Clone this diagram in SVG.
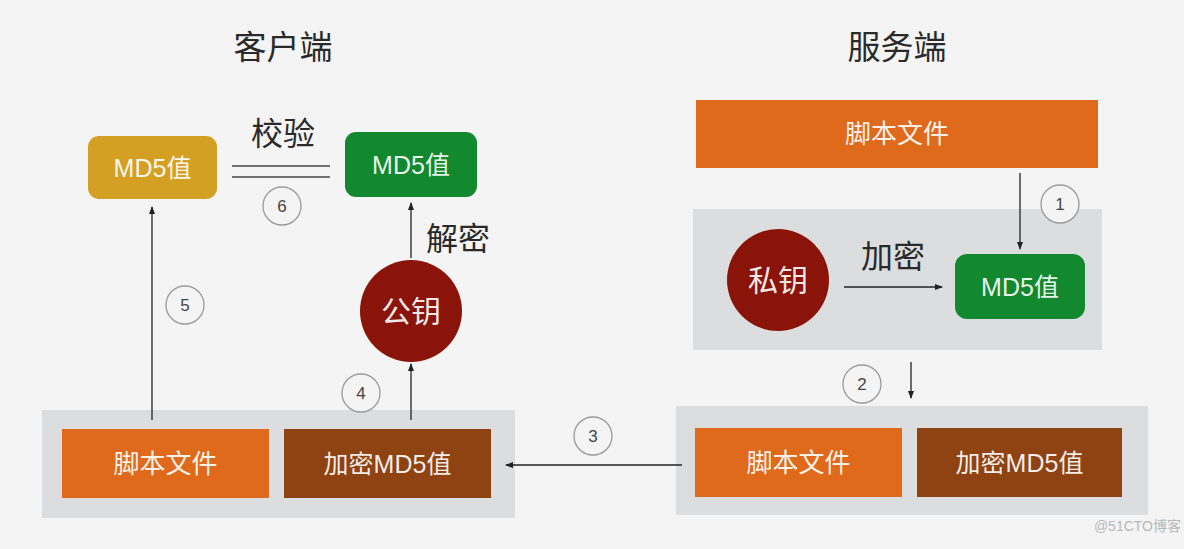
<svg xmlns="http://www.w3.org/2000/svg" width="1184" height="549" viewBox="0 0 1184 549">
<defs>
<marker id="ah" markerWidth="8" markerHeight="8" refX="7" refY="4" orient="auto" markerUnits="userSpaceOnUse">
<path d="M0,1 L8,4 L0,7 Z" fill="#222"/>
</marker>
<style>
.t{font-family:"Liberation Sans","Noto Sans CJK SC",sans-serif;text-anchor:middle;dominant-baseline:central}
.title{font-size:33px;fill:#2a2a2a}
.lbl{font-size:32px;fill:#2a2a2a}
.w{font-size:25px;fill:#fff;fill-opacity:0.92}
.ws{font-size:26px;fill:#fff;fill-opacity:0.92}
.wk{font-size:30px;fill:#fff;fill-opacity:0.92}
.num{font-family:"Liberation Sans",sans-serif;font-size:17px;fill:#444;text-anchor:middle;dominant-baseline:central}
.nc{fill:#f4f4f4;stroke:#9a9a9a;stroke-width:1.3}
.grp{fill:#dcdddf}
.or{fill:#e06a1c}
.br{fill:#8f4313}
.gr{fill:#12892e}
.yl{fill:#d3a024}
.key{fill:#8a1409}
.c{stroke:#222;stroke-width:1.3;fill:none}
</style>
</defs>
<rect width="1184" height="549" fill="#f4f4f4"/>

<g id="titles">
<text class="t title" x="283" y="47">客户端</text>
<text class="t title" x="897" y="47">服务端</text>
</g>

<g id="client-group">
<rect class="grp" x="42" y="410" width="473" height="108"/>
</g>
<g id="client-script">
<rect class="or" x="62" y="429" width="207" height="69"/>
<text class="t ws" x="165.5" y="463.5">脚本文件</text>
</g>
<g id="client-encmd5">
<rect class="br" x="284" y="429" width="207" height="69"/>
<text class="t w" x="387.5" y="463.5">加密MD5值</text>
</g>
<g id="client-md5-yellow">
<rect class="yl" x="88" y="136" width="129" height="63" rx="11"/>
<text class="t w" x="152.5" y="167.5">MD5值</text>
</g>
<g id="client-md5-green">
<rect class="gr" x="345" y="132" width="132" height="65" rx="11"/>
<text class="t w" x="411" y="164.5">MD5值</text>
</g>
<g id="public-key">
<circle class="key" cx="411" cy="311" r="51"/>
<text class="t wk" x="411" y="311">公钥</text>
</g>

<g id="server-script-top">
<rect class="or" x="696" y="100" width="402" height="68"/>
<text class="t ws" x="897" y="134">脚本文件</text>
</g>
<g id="server-group-top">
<rect class="grp" x="693" y="209" width="409" height="141"/>
</g>
<g id="private-key">
<circle class="key" cx="778" cy="280" r="51"/>
<text class="t wk" x="778" y="280">私钥</text>
</g>
<g id="server-md5">
<rect class="gr" x="955" y="254" width="130" height="65" rx="12"/>
<text class="t w" x="1020" y="286.5">MD5值</text>
</g>
<g id="server-group-bottom">
<rect class="grp" x="676" y="406" width="472" height="109"/>
</g>
<g id="server-script">
<rect class="or" x="695" y="428" width="207" height="69"/>
<text class="t ws" x="798.5" y="462.5">脚本文件</text>
</g>
<g id="server-encmd5">
<rect class="br" x="917" y="428" width="205" height="69"/>
<text class="t w" x="1019.5" y="462.5">加密MD5值</text>
</g>

<g id="connectors">
<line class="c" x1="1020" y1="173" x2="1020" y2="249" marker-end="url(#ah)"/>
<line class="c" x1="844" y1="287" x2="942" y2="287" marker-end="url(#ah)"/>
<line class="c" x1="911" y1="362" x2="911" y2="398" marker-end="url(#ah)"/>
<line class="c" x1="682" y1="465" x2="506" y2="465" marker-end="url(#ah)"/>
<line class="c" x1="411" y1="420" x2="411" y2="364" marker-end="url(#ah)"/>
<line class="c" x1="411" y1="258" x2="411" y2="203" marker-end="url(#ah)"/>
<line class="c" x1="152" y1="420" x2="152" y2="207" marker-end="url(#ah)"/>
<line x1="232" y1="166" x2="330" y2="166" stroke="#444" stroke-width="1.5"/>
<line x1="232" y1="177" x2="330" y2="177" stroke="#444" stroke-width="1.5"/>
<text class="t lbl" x="283" y="134">校验</text>
<text class="t lbl" x="458" y="239">解密</text>
<text class="t lbl" x="893" y="257">加密</text>
</g>

<g id="step-numbers">
<circle class="nc" cx="1060" cy="204" r="19"/><text class="num" x="1060" y="204">1</text>
<circle class="nc" cx="862" cy="384" r="19"/><text class="num" x="862" y="384">2</text>
<circle class="nc" cx="593" cy="436" r="19"/><text class="num" x="593" y="436">3</text>
<circle class="nc" cx="361" cy="393" r="19"/><text class="num" x="361" y="393">4</text>
<circle class="nc" cx="185" cy="305" r="19"/><text class="num" x="185" y="305">5</text>
<circle class="nc" cx="282" cy="206" r="19"/><text class="num" x="282" y="206">6</text>
</g>

<text x="1181" y="531" font-family="Liberation Sans,Noto Sans CJK SC,sans-serif" font-size="14" fill="#b8b8b8" text-anchor="end">@51CTO博客</text>
</svg>
